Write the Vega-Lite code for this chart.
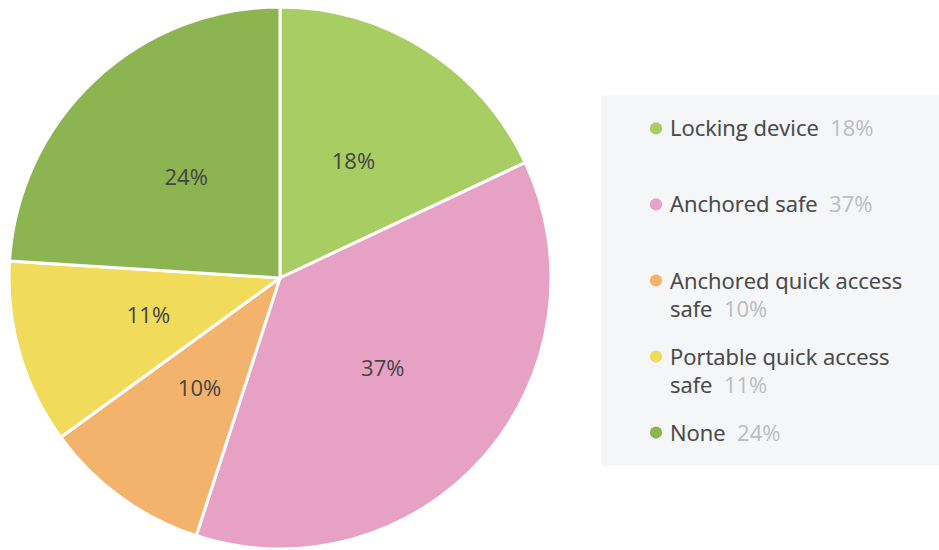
{
  "$schema": "https://vega.github.io/schema/vega-lite/v6.json",
  "background": "#ffffff",
  "padding": {"left": 0, "top": 1, "right": 0, "bottom": 0},
  "spacing": 41,
  "center": true,
  "config": {"view": {"stroke": null}, "font": "Open Sans"},
  "data": {
    "values": [
      {"cat": "Locking device", "order": 1, "value": 0.18, "name": "Locking device", "full": "Locking device\u00a0\u00a018%"},
      {"cat": "Anchored safe", "order": 2, "value": 0.37, "name": "Anchored safe", "full": "Anchored safe\u00a0\u00a037%"},
      {"cat": "Anchored quick access safe", "order": 3, "value": 0.10, "name": "Anchored quick access\nsafe", "full": "Anchored quick access\nsafe\u00a0\u00a010%"},
      {"cat": "Portable quick access safe", "order": 4, "value": 0.11, "name": "Portable quick access\nsafe", "full": "Portable quick access\nsafe\u00a0\u00a011%"},
      {"cat": "None", "order": 5, "value": 0.24, "name": "None", "full": "None\u00a0\u00a024%"}
    ]
  },
  "hconcat": [
    {
      "width": 560,
      "height": 544,
      "encoding": {
        "theta": {"field": "value", "type": "quantitative", "stack": true},
        "order": {"field": "order", "type": "quantitative"}
      },
      "layer": [
        {
          "mark": {"type": "arc", "outerRadius": 271, "stroke": "#ffffff", "strokeWidth": 3},
          "encoding": {
            "color": {
              "field": "cat", "type": "nominal",
              "scale": {
                "domain": ["Locking device", "Anchored safe", "Anchored quick access safe", "Portable quick access safe", "None"],
                "range": ["#a8cd62", "#e6a1c4", "#f3b36c", "#f0db5b", "#8cb552"]
              },
              "legend": null
            }
          }
        },
        {
          "mark": {"type": "text", "radius": 137, "fontSize": 22, "color": "#444444"},
          "encoding": {
            "text": {"field": "value", "type": "quantitative", "format": ".0%"}
          }
        }
      ]
    },
    {
      "width": 338,
      "height": 370,
      "view": {"fill": "#f4f6f7", "stroke": null},
      "encoding": {
        "y": {
          "field": "cat", "type": "nominal", "sort": null,
          "scale": {"type": "point", "padding": 0.434},
          "axis": null
        }
      },
      "layer": [
        {
          "mark": {"type": "circle", "size": 150, "opacity": 1},
          "encoding": {
            "x": {"value": 55},
            "color": {
              "field": "cat", "type": "nominal",
              "scale": {
                "domain": ["Locking device", "Anchored safe", "Anchored quick access safe", "Portable quick access safe", "None"],
                "range": ["#a8cd62", "#e6a1c4", "#f3b36c", "#f0db5b", "#80a84a"]
              },
              "legend": null
            }
          }
        },
        {
          "mark": {"type": "text", "align": "left", "baseline": "alphabetic", "dy": 8, "fontSize": 22, "color": "#bdbdbd", "lineBreak": "\n", "lineHeight": 28},
          "encoding": {"x": {"value": 69}, "text": {"field": "full"}}
        },
        {
          "mark": {"type": "text", "align": "left", "baseline": "alphabetic", "dy": 8, "fontSize": 22, "color": "#4a4a4a", "lineBreak": "\n", "lineHeight": 28},
          "encoding": {"x": {"value": 69}, "text": {"field": "name"}}
        }
      ]
    }
  ]
}
